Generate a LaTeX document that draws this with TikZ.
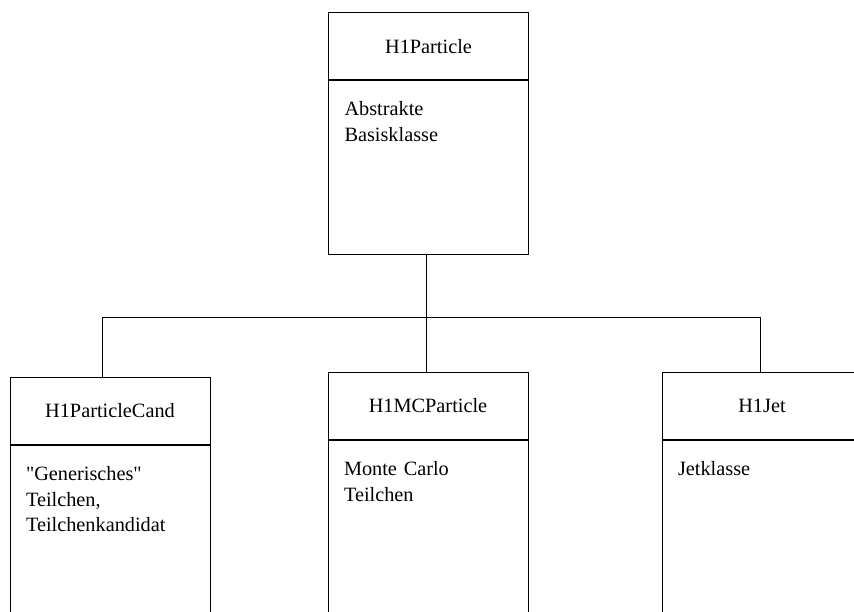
\documentclass[tikz,border=0pt]{standalone}
\usepackage{fontspec}
\newfontfamily\klassefont{Liberation Serif}
\usetikzlibrary{positioning}

\begin{document}
\begin{tikzpicture}[x=1pt,y=-1pt,line width=1pt,every node/.style={draw,rectangle,minimum width=200pt,inner sep=0pt,font=\klassefont\fontsize{20.3}{25.5}\selectfont},
kopf/.style={minimum height=67pt,anchor=north},
rumpf/.style={text width=168pt,align=left,inner xsep=16pt,inner ysep=21pt,text height=14pt,text depth=118pt},
unten/.style={text depth=140pt}]
\useasboundingbox (0,0) rectangle (854,612);
\node [kopf] (part) at (428.5,12.5) {H1Particle};
\node [rumpf,below=0pt of part] (part-b) {Abstrakte\\Basisklasse};
% abgeleitete Klassen
\node [kopf] (cand) at (110,377) {H1ParticleCand};
\node [rumpf,unten,below=0pt of cand] (cand-b) {"Generisches"\\Teilchen,\\Teilchenkandidat};
\node [kopf] (mc) at (428,372) {H1MCParticle};
\node [rumpf,unten,below=0pt of mc] (mc-b) {Monte Carlo\\Teilchen};
\node [kopf] (jet) at (762,372) {H1Jet};
\node [rumpf,unten,below=0pt of jet] (jet-b) {Jetklasse};
\draw ([xshift=-2.5pt]part-b.south) -- ++(0,62) coordinate (gabel);
\draw ([xshift=-8pt]cand.north) |- (gabel) -| ([xshift=-2pt]jet.north);
\draw (gabel) -- (gabel |- mc.north);
\end{tikzpicture}
\end{document}
